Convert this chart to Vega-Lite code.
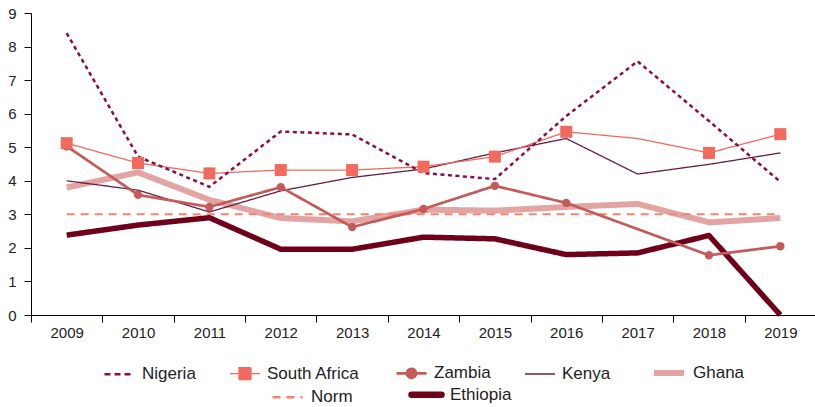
{
  "$schema": "https://vega.github.io/schema/vega-lite/v6.json",
  "width": 785,
  "height": 302,
  "padding": {"left": 7, "top": 6, "right": 0, "bottom": 0},
  "config": {
    "view": {"stroke": null},
    "font": "Liberation Sans",
    "axis": {"domainColor": "#000", "tickColor": "#000", "labelColor": "#222", "labelFontSize": 15, "labelFont": "Liberation Sans", "grid": false, "title": null},
    "legend": {"labelFont": "Liberation Sans", "labelFontSize": 17, "labelColor": "#222"}
  },
  "data": {
    "values": [
      {"year": "2009", "series": "Ghana", "value": 3.8},
      {"year": "2010", "series": "Ghana", "value": 4.25},
      {"year": "2011", "series": "Ghana", "value": 3.43},
      {"year": "2012", "series": "Ghana", "value": 2.89},
      {"year": "2013", "series": "Ghana", "value": 2.79},
      {"year": "2014", "series": "Ghana", "value": 3.14},
      {"year": "2015", "series": "Ghana", "value": 3.11},
      {"year": "2016", "series": "Ghana", "value": 3.22},
      {"year": "2017", "series": "Ghana", "value": 3.31},
      {"year": "2018", "series": "Ghana", "value": 2.76},
      {"year": "2019", "series": "Ghana", "value": 2.89},
      {"year": "2009", "series": "Norm", "value": 3},
      {"year": "2010", "series": "Norm", "value": 3},
      {"year": "2011", "series": "Norm", "value": 3},
      {"year": "2012", "series": "Norm", "value": 3},
      {"year": "2013", "series": "Norm", "value": 3},
      {"year": "2014", "series": "Norm", "value": 3},
      {"year": "2015", "series": "Norm", "value": 3},
      {"year": "2016", "series": "Norm", "value": 3},
      {"year": "2017", "series": "Norm", "value": 3},
      {"year": "2018", "series": "Norm", "value": 3},
      {"year": "2019", "series": "Norm", "value": 3},
      {"year": "2009", "series": "Ethiopia", "value": 2.38},
      {"year": "2010", "series": "Ethiopia", "value": 2.68},
      {"year": "2011", "series": "Ethiopia", "value": 2.9},
      {"year": "2012", "series": "Ethiopia", "value": 1.96},
      {"year": "2013", "series": "Ethiopia", "value": 1.96},
      {"year": "2014", "series": "Ethiopia", "value": 2.32},
      {"year": "2015", "series": "Ethiopia", "value": 2.27},
      {"year": "2016", "series": "Ethiopia", "value": 1.8},
      {"year": "2017", "series": "Ethiopia", "value": 1.85},
      {"year": "2018", "series": "Ethiopia", "value": 2.37},
      {"year": "2019", "series": "Ethiopia", "value": 0},
      {"year": "2009", "series": "Kenya", "value": 4.0},
      {"year": "2010", "series": "Kenya", "value": 3.72},
      {"year": "2011", "series": "Kenya", "value": 3.07},
      {"year": "2012", "series": "Kenya", "value": 3.7},
      {"year": "2013", "series": "Kenya", "value": 4.1},
      {"year": "2014", "series": "Kenya", "value": 4.35},
      {"year": "2015", "series": "Kenya", "value": 4.83},
      {"year": "2016", "series": "Kenya", "value": 5.26},
      {"year": "2017", "series": "Kenya", "value": 4.2},
      {"year": "2018", "series": "Kenya", "value": 4.49},
      {"year": "2019", "series": "Kenya", "value": 4.83},
      {"year": "2009", "series": "Zambia", "value": 5.03},
      {"year": "2010", "series": "Zambia", "value": 3.58},
      {"year": "2011", "series": "Zambia", "value": 3.22},
      {"year": "2012", "series": "Zambia", "value": 3.81},
      {"year": "2013", "series": "Zambia", "value": 2.62},
      {"year": "2014", "series": "Zambia", "value": 3.16},
      {"year": "2015", "series": "Zambia", "value": 3.85},
      {"year": "2016", "series": "Zambia", "value": 3.34},
      {"year": "2018", "series": "Zambia", "value": 1.78},
      {"year": "2019", "series": "Zambia", "value": 2.05},
      {"year": "2009", "series": "South Africa", "value": 5.12},
      {"year": "2010", "series": "South Africa", "value": 4.53},
      {"year": "2011", "series": "South Africa", "value": 4.22},
      {"year": "2012", "series": "South Africa", "value": 4.32},
      {"year": "2013", "series": "South Africa", "value": 4.32},
      {"year": "2014", "series": "South Africa", "value": 4.42},
      {"year": "2015", "series": "South Africa", "value": 4.72},
      {"year": "2016", "series": "South Africa", "value": 5.46},
      {"year": "2017", "series": "South Africa", "value": 5.26},
      {"year": "2018", "series": "South Africa", "value": 4.83},
      {"year": "2019", "series": "South Africa", "value": 5.39},
      {"year": "2009", "series": "Nigeria", "value": 8.4},
      {"year": "2010", "series": "Nigeria", "value": 4.72},
      {"year": "2011", "series": "Nigeria", "value": 3.82},
      {"year": "2012", "series": "Nigeria", "value": 5.47},
      {"year": "2013", "series": "Nigeria", "value": 5.38},
      {"year": "2014", "series": "Nigeria", "value": 4.23},
      {"year": "2015", "series": "Nigeria", "value": 4.05},
      {"year": "2016", "series": "Nigeria", "value": 5.93},
      {"year": "2017", "series": "Nigeria", "value": 7.56},
      {"year": "2018", "series": "Nigeria", "value": 5.78},
      {"year": "2019", "series": "Nigeria", "value": 3.97}
    ]
  },
  "encoding": {
    "x": {
      "field": "year", "type": "ordinal", "bandPosition": 0.5,
      "scale": {"type": "band", "paddingInner": 0, "paddingOuter": 0},
      "axis": {"labelAngle": 0, "tickBand": "extent", "tickSize": 7, "labelPadding": 3}
    },
    "y": {
      "field": "value", "type": "quantitative",
      "scale": {"domain": [0, 9], "nice": false},
      "axis": {"values": [0, 1, 2, 3, 4, 5, 6, 7, 8, 9], "tickSize": 7, "labelPadding": 8}
    }
  },
  "layer": [
    {
      "mark": {"type": "line", "strokeJoin": "round"},
      "encoding": {
        "color": {
          "field": "series", "type": "nominal",
          "scale": {
            "domain": ["Nigeria", "South Africa", "Zambia", "Kenya", "Ghana", "Norm", "Ethiopia"],
            "range": ["#8E0B45", "#F26A5E", "#C55A5A", "#6B1A42", "#E3A4A4", "#F7836F", "#6E0019"]
          },
          "legend": {
            "title": null, "orient": "none", "legendX": 72, "legendY": 342, "direction": "horizontal",
            "values": ["Nigeria", "South Africa", "Zambia", "Kenya", "Ghana"],
            "symbolSize": 900, "labelOffset": 6, "columnPadding": 31,
            "encode": {
              "symbols": {
                "update": {
                  "shape": {"signal": "datum.value === 'South Africa' ? 'M-1,0H1M-0.4,-0.4H0.4V0.4H-0.4Z' : datum.value === 'Zambia' ? 'M-1,0H1M0.3,0A0.3,0.3,0,1,1,-0.3,0A0.3,0.3,0,1,1,0.3,0Z' : 'stroke'"},
                  "stroke": {"signal": "scale('color', datum.value)"},
                  "fill": {"signal": "datum.value === 'South Africa' || datum.value === 'Zambia' ? scale('color', datum.value) : 'transparent'"},
                  "strokeWidth": {"signal": "datum.value === 'Nigeria' ? 2.5 : datum.value === 'South Africa' ? 1.5 : datum.value === 'Zambia' ? 3 : datum.value === 'Kenya' ? 1.5 : 5"},
                  "strokeDash": {"signal": "datum.value === 'Nigeria' ? [6, 4] : [1, 0]"},
                  "opacity": {"value": 1}
                }
              }
            }
          }
        },
        "strokeDash": {
          "field": "series", "type": "nominal",
          "scale": {
            "domain": ["Norm", "Ethiopia", "Nigeria", "South Africa", "Zambia", "Kenya", "Ghana"],
            "range": [[8, 6], [1, 0], [4, 3.5], [1, 0], [1, 0], [1, 0], [1, 0]]
          },
          "legend": {
            "title": null, "orient": "none", "legendX": 248, "legendY": 373, "direction": "horizontal",
            "values": ["Norm", "Ethiopia"],
            "symbolSize": 900, "labelOffset": 15, "columnPadding": 45,
            "encode": {
              "symbols": {
                "update": {
                  "shape": {"value": "stroke"},
                  "stroke": {"signal": "datum.value === 'Norm' ? '#F7836F' : '#6E0019'"},
                  "strokeWidth": {"signal": "datum.value === 'Norm' ? 2.5 : 6.5"},
                  "strokeDash": {"signal": "datum.value === 'Norm' ? [10, 11] : [1, 0]"},
                  "strokeCap": {"signal": "datum.value === 'Norm' ? 'butt' : 'round'"},
                  "opacity": {"value": 1}
                }
              }
            }
          }
        },
        "strokeWidth": {
          "field": "series", "type": "nominal",
          "scale": {
            "type": "ordinal",
            "domain": ["Nigeria", "South Africa", "Zambia", "Kenya", "Ghana", "Norm", "Ethiopia"],
            "range": [2.5, 1.3, 2.7, 1.3, 6, 2, 5.5]
          },
          "legend": null
        }
      }
    },
    {
      "transform": [{"filter": "datum.series === 'Zambia' || (datum.series === 'South Africa' && datum.year !== '2017')"}],
      "mark": {"type": "point", "filled": true, "opacity": 1},
      "encoding": {
        "color": {"field": "series", "type": "nominal", "legend": null},
        "shape": {
          "field": "series", "type": "nominal",
          "scale": {"domain": ["South Africa", "Zambia"], "range": ["square", "circle"]},
          "legend": null
        },
        "size": {
          "field": "series", "type": "nominal",
          "scale": {"type": "ordinal", "domain": ["South Africa", "Zambia"], "range": [144, 70]},
          "legend": null
        }
      }
    }
  ]
}
